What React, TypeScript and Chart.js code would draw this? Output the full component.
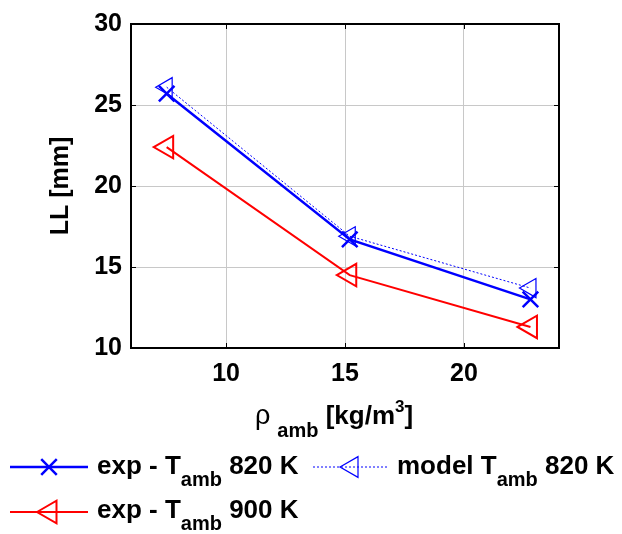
import React, { useEffect, useRef } from "react";
import { Chart, registerables } from "chart.js";

Chart.register(...registerables);

// ---- data ----
const rho = [7.5, 15.2, 22.8];
const expT820 = [25.7, 16.7, 13.0];
const modelT820 = [26.1, 16.9, 13.7];
const expT900 = [22.4, 14.5, 11.3];
const xTickValues = [10, 15, 20];
const yTickValues = [10, 15, 20, 25, 30];

const FONT = '"Liberation Sans", Arial, Helvetica, sans-serif';
const BLUE = "#0000ff";
const RED = "#ff0000";

type Part = { text: string; size: number; dy: number; bold?: boolean };

function drawRich(ctx: CanvasRenderingContext2D, x: number, y: number, parts: Part[]) {
  let cx = x;
  ctx.textBaseline = "alphabetic";
  ctx.textAlign = "left";
  ctx.fillStyle = "#000";
  for (const p of parts) {
    ctx.font = `${p.bold === false ? "normal" : "bold"} ${p.size}px ${FONT}`;
    ctx.fillText(p.text, cx, y + p.dy);
    cx += ctx.measureText(p.text).width;
  }
}

function drawCross(ctx: CanvasRenderingContext2D, cx: number, cy: number, r: number, color: string, lw: number) {
  const d = r * Math.SQRT1_2;
  ctx.save();
  ctx.strokeStyle = color;
  ctx.lineWidth = lw;
  ctx.setLineDash([]);
  ctx.beginPath();
  ctx.moveTo(cx - d, cy - d);
  ctx.lineTo(cx + d, cy + d);
  ctx.moveTo(cx - d, cy + d);
  ctx.lineTo(cx + d, cy - d);
  ctx.stroke();
  ctx.restore();
}

function drawTriLeft(ctx: CanvasRenderingContext2D, cx: number, cy: number, r: number, color: string, lw: number) {
  ctx.save();
  ctx.strokeStyle = color;
  ctx.lineWidth = lw;
  ctx.setLineDash([]);
  ctx.beginPath();
  ctx.moveTo(cx - r, cy);
  ctx.lineTo(cx + r / 2, cy - r * 0.866);
  ctx.lineTo(cx + r / 2, cy + r * 0.866);
  ctx.closePath();
  ctx.stroke();
  ctx.restore();
}

function legendLine(ctx: CanvasRenderingContext2D, x1: number, x2: number, y: number, color: string, lw: number, dash: number[]) {
  ctx.save();
  ctx.strokeStyle = color;
  ctx.lineWidth = lw;
  ctx.setLineDash(dash);
  ctx.beginPath();
  ctx.moveTo(x1, y);
  ctx.lineTo(x2, y);
  ctx.stroke();
  ctx.restore();
}

const framePlugin = {
  id: "matlabFrame",
  afterDraw(chart: any) {
    const ctx: CanvasRenderingContext2D = chart.ctx;
    const { left, right, top, bottom } = chart.chartArea;
    const xs = chart.scales.x;
    const ys = chart.scales.y;
    ctx.save();
    // inner tick marks
    ctx.strokeStyle = "#000";
    ctx.lineWidth = 1;
    ctx.beginPath();
    for (const v of xTickValues) {
      const px = Math.round(xs.getPixelForValue(v)) + 0.5;
      ctx.moveTo(px, bottom);
      ctx.lineTo(px, bottom - 5);
      ctx.moveTo(px, top);
      ctx.lineTo(px, top + 5);
    }
    for (const v of yTickValues) {
      const py = Math.round(ys.getPixelForValue(v)) + 0.5;
      ctx.moveTo(left, py);
      ctx.lineTo(left + 5, py);
      ctx.moveTo(right, py);
      ctx.lineTo(right - 5, py);
    }
    ctx.stroke();
    // box
    ctx.lineWidth = 2;
    ctx.strokeRect(left, top, right - left, bottom - top);

    // y title
    ctx.save();
    ctx.translate(68, (top + bottom) / 2);
    ctx.rotate(-Math.PI / 2);
    ctx.font = `bold 25px ${FONT}`;
    ctx.fillStyle = "#000";
    ctx.textAlign = "center";
    ctx.textBaseline = "alphabetic";
    ctx.fillText("LL [mm]", 0, 0);
    ctx.restore();

    // x title
    drawRich(ctx, 255, 424, [
      { text: "\u03c1", size: 27, dy: 0, bold: false },
      { text: " ", size: 25, dy: 0 },
      { text: "amb", size: 20, dy: 13 },
      { text: " [kg/m", size: 26, dy: 0 },
      { text: "3", size: 17, dy: -12 },
      { text: "]", size: 26, dy: 0 },
    ]);

    // legend row 1
    legendLine(ctx, 10, 88, 467, BLUE, 2.5, []);
    drawCross(ctx, 49, 467, 11, BLUE, 2.5);
    drawRich(ctx, 97, 474, [
      { text: "exp - T", size: 26, dy: 0 },
      { text: "amb", size: 20, dy: 12 },
      { text: " 820 K", size: 26, dy: 0 },
    ]);
    legendLine(ctx, 313, 388, 467, BLUE, 1, [2, 2]);
    drawTriLeft(ctx, 352, 467, 12, BLUE, 1.2);
    drawRich(ctx, 397, 474, [
      { text: "model T", size: 26, dy: 0 },
      { text: "amb", size: 20, dy: 12 },
      { text: " 820 K", size: 26, dy: 0 },
    ]);
    // legend row 2
    legendLine(ctx, 10, 88, 512, RED, 2, []);
    drawTriLeft(ctx, 50, 512, 13, RED, 2);
    drawRich(ctx, 97, 518, [
      { text: "exp - T", size: 26, dy: 0 },
      { text: "amb", size: 20, dy: 12 },
      { text: " 900 K", size: 26, dy: 0 },
    ]);
    ctx.restore();
  },
};

export default function App() {
  const ref = useRef<HTMLCanvasElement | null>(null);
  useEffect(() => {
    if (!ref.current) return;
    const toPts = (ys: number[]) => rho.map((x, i) => ({ x, y: ys[i] }));
    const chart = new Chart(ref.current, {
      type: "line",
      data: {
        datasets: [
          {
            label: "model T_amb 820 K",
            data: toPts(modelT820),
            borderColor: BLUE,
            backgroundColor: "rgba(0,0,0,0)",
            borderWidth: 1,
            borderDash: [2, 2],
            pointStyle: "triangle",
            rotation: -90,
            pointRadius: 11,
            pointBorderWidth: 1.2,
            pointBackgroundColor: "rgba(0,0,0,0)",
            pointBorderColor: BLUE,
            tension: 0,
          } as any,
          {
            label: "exp - T_amb 820 K",
            data: toPts(expT820),
            borderColor: BLUE,
            backgroundColor: "rgba(0,0,0,0)",
            borderWidth: 2.5,
            pointStyle: "crossRot",
            pointRadius: 11,
            pointBorderWidth: 2.5,
            pointBorderColor: BLUE,
            tension: 0,
          } as any,
          {
            label: "exp - T_amb 900 K",
            data: toPts(expT900),
            borderColor: RED,
            backgroundColor: "rgba(0,0,0,0)",
            borderWidth: 2,
            pointStyle: "triangle",
            rotation: -90,
            pointRadius: 13,
            pointBorderWidth: 2,
            pointBackgroundColor: "rgba(0,0,0,0)",
            pointBorderColor: RED,
            tension: 0,
          } as any,
        ],
      },
      options: {
        animation: false,
        responsive: false,
        devicePixelRatio: 1,
        layout: { padding: { left: 0, top: 17, right: 63, bottom: 0 }, autoPadding: false } as any,
        plugins: { legend: { display: false }, tooltip: { enabled: false } },
        scales: {
          x: {
            type: "linear",
            min: 6,
            max: 24,
            afterBuildTicks: (s: any) => {
              s.ticks = xTickValues.map((v) => ({ value: v }));
            },
            afterFit: (s: any) => {
              s.height = 186;
            },
            grid: { color: "#c8c8c8", lineWidth: 1, drawTicks: false },
            border: { display: false },
            ticks: {
              padding: 11,
              color: "#000",
              font: { family: FONT, size: 25, weight: "bold" },
            },
          },
          y: {
            type: "linear",
            min: 10,
            max: 30,
            afterBuildTicks: (s: any) => {
              s.ticks = yTickValues.map((v) => ({ value: v }));
            },
            afterFit: (s: any) => {
              s.width = 131;
            },
            grid: { color: "#c8c8c8", lineWidth: 1, drawTicks: false },
            border: { display: false },
            ticks: {
              padding: 9,
              color: "#000",
              font: { family: FONT, size: 25, weight: "bold" },
            },
          },
        },
      } as any,
      plugins: [framePlugin],
    });
    return () => chart.destroy();
  }, []);
  return (
    <div style={{ position: "fixed", left: 0, top: 0, width: 622, height: 534, background: "#fff" }}>
      <canvas ref={ref} width={622} height={534} style={{ width: 622, height: 534, display: "block" }} />
    </div>
  );
}
